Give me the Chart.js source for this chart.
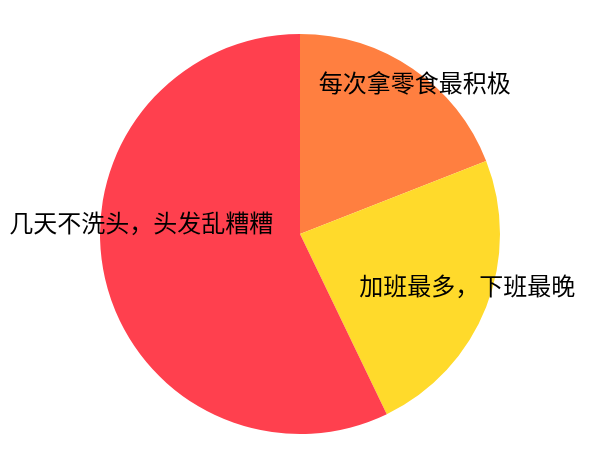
<!DOCTYPE html>
<html>
<head>
<meta charset="utf-8">
<script src="https://cdn.jsdelivr.net/npm/chart.js@4/dist/chart.umd.min.js"></script>
<style>
  html, body { margin: 0; padding: 0; background: #ffffff; }
  #wrap { width: 600px; height: 468px; }
</style>
</head>
<body>
<div id="wrap"><canvas id="chart-pie"></canvas></div>
<script>
const categorias = ["每次拿零食最积极", "加班最多，下班最晚", "几天不洗头，头发乱糟糟"];
const valores = [4, 5, 12];
const cores = ["#FF7F40", "#FFDA2B", "#FF404E"];

// small nudges so each label sits where the original put it
const ajustes = [[19, -11], [9, -10], [7, -49]];

const rotulosPlugin = {
  id: "rotulos",
  afterDatasetsDraw(chart) {
    const ctx = chart.ctx;
    const meta = chart.getDatasetMeta(0);
    ctx.save();
    ctx.font = "24px 'Noto Sans CJK SC', sans-serif";
    ctx.fillStyle = "#000000";
    ctx.textAlign = "center";
    ctx.textBaseline = "middle";
    meta.data.forEach((arc, i) => {
      const p = arc.getProps(["x", "y", "startAngle", "endAngle", "outerRadius"], true);
      const meio = (p.startAngle + p.endAngle) / 2;
      const r = p.outerRadius * 0.85;
      const x = p.x + Math.cos(meio) * r + ajustes[i][0];
      const y = p.y + Math.sin(meio) * r + ajustes[i][1];
      ctx.fillText(categorias[i], x, y);
    });
    ctx.restore();
  }
};

new Chart(document.getElementById("chart-pie"), {
  type: "pie",
  data: {
    labels: categorias,
    datasets: [{
      data: valores,
      backgroundColor: cores,
      borderWidth: 0
    }]
  },
  options: {
    responsive: true,
    maintainAspectRatio: false,
    animation: false,
    layout: {
      padding: { top: 34, bottom: 34, left: 0, right: 0 }
    },
    plugins: {
      legend: { display: false },
      tooltip: { enabled: false },
      title: { display: false }
    }
  },
  plugins: [rotulosPlugin]
});
</script>
</body>
</html>
